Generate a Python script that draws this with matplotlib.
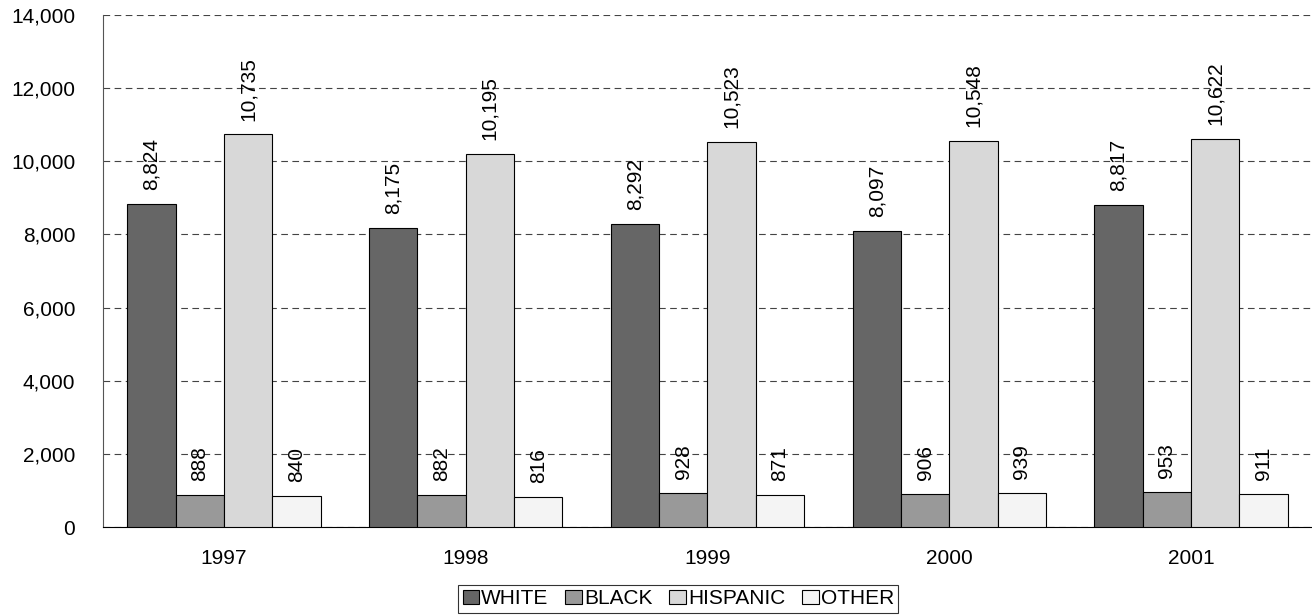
import numpy as np
import matplotlib.pyplot as plt

plt.rcParams['font.family'] = ['Liberation Sans', 'DejaVu Sans']

years = ['1997', '1998', '1999', '2000', '2001']
white = [8824, 8175, 8292, 8097, 8817]
black = [888, 882, 928, 906, 953]
hispanic = [10735, 10195, 10523, 10548, 10622]
other = [840, 816, 871, 939, 911]

series = [('WHITE', white, '#666666'),
          ('BLACK', black, '#999999'),
          ('HISPANIC', hispanic, '#d8d8d8'),
          ('OTHER', other, '#f4f4f4')]

fig = plt.figure(figsize=(13.12, 6.15), dpi=100)
ax = fig.add_axes([0.0785, 0.143, 0.9215, 0.8326])

x = np.arange(len(years))
w = 0.2
for i, (name, vals, col) in enumerate(series):
    pos = x + (i - 1.5) * w
    ax.bar(pos, vals, w, color=col, edgecolor='black', linewidth=0.8,
           label=name, zorder=3)
    for px, v in zip(pos, vals):
        ax.text(px, v + 380, '{:,}'.format(v), rotation=90, ha='center',
                va='bottom', fontsize=15, zorder=4)

ax.set_xlim(-0.5, 4.5)
ax.set_ylim(0, 14000)
ax.set_yticks(range(0, 14001, 2000))
ax.set_yticklabels(['{:,}'.format(t) for t in range(0, 14001, 2000)], fontsize=15)
ax.set_xticks(x)
ax.set_xticklabels(years, fontsize=15)
ax.tick_params(axis='y', length=0, pad=20)
ax.tick_params(axis='x', length=0, pad=16)
ax.grid(axis='y', linestyle=(0, (6, 4)), color='#444444', linewidth=0.8, zorder=0)
for s in ['top', 'right']:
    ax.spines[s].set_visible(False)
ax.spines['left'].set_color('#555555')
ax.spines['bottom'].set_color('black')

leg = ax.legend(loc='lower center', bbox_to_anchor=(0.517, 0.004),
                bbox_transform=fig.transFigure,
                ncol=4, fontsize=15, frameon=True, fancybox=False,
                handlelength=0.8, handleheight=0.7, handletextpad=0.1,
                columnspacing=0.8, borderpad=0.2, borderaxespad=0)
leg.get_frame().set_edgecolor('black')
leg.get_frame().set_linewidth(0.8)

fig.savefig('out.png', dpi=100)
